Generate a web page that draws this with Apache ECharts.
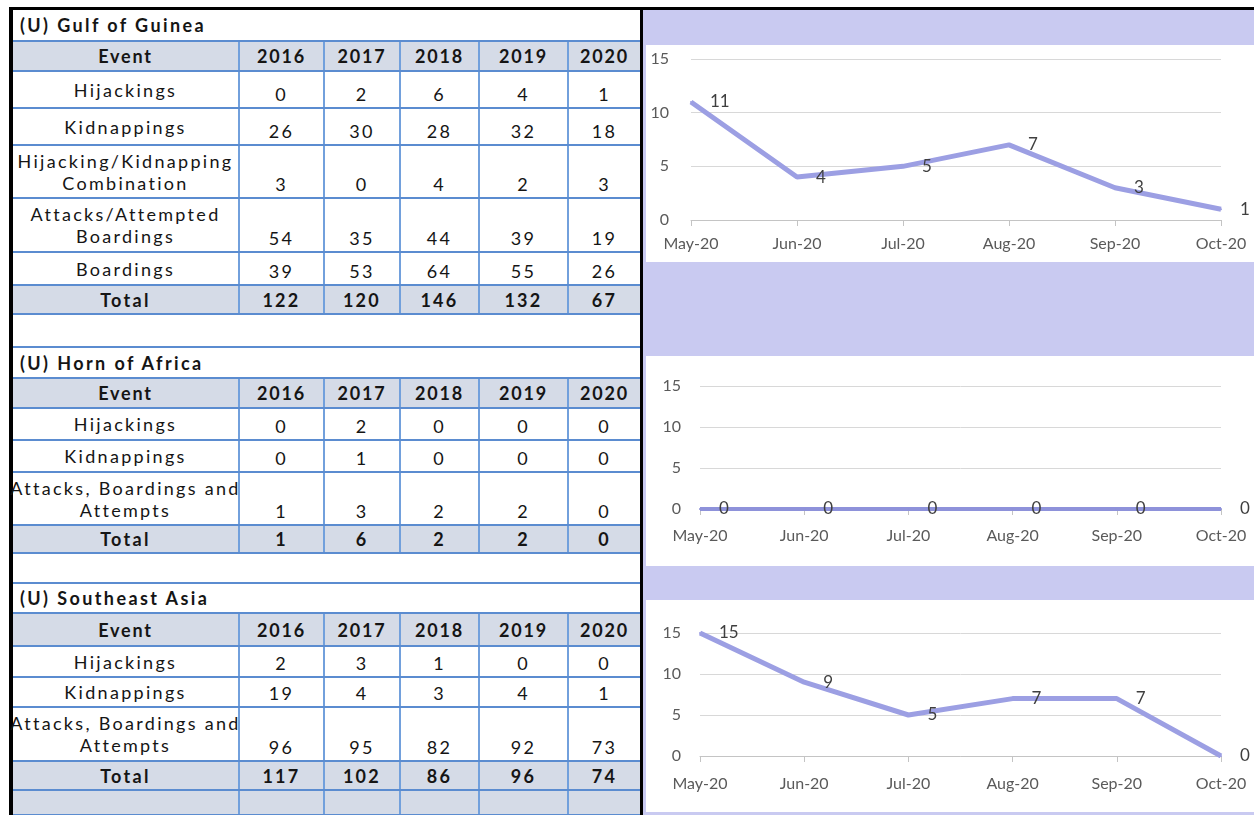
<!DOCTYPE html>
<html>
<head>
<meta charset="utf-8">
<script src="https://cdn.jsdelivr.net/npm/echarts@6/dist/echarts.min.js"></script>
<style>
  html, body { margin: 0; padding: 0; background: #fff; }
  body { width: 1254px; height: 815px; position: relative; overflow: hidden; font-family: Lato, 'Open Sans', sans-serif; }
  .blk { position: absolute; background: #000; }
  #tables { position: absolute; left: 13px; top: 10px; width: 627px; }
  #right { position: absolute; left: 643px; top: 10px; width: 611px; height: 805px; background: #c9caf1; }
  .panel { position: absolute; left: 3px; width: 608px; background: #fff; }

  table { border-collapse: collapse; table-layout: fixed; width: 627px; }
  td { padding: 0 0 2px 0; border-bottom: 2px solid #5b8cd0; font-size: 18px; letter-spacing: 2.3px; color: #151515;
       text-align: center; vertical-align: bottom; line-height: 22px; overflow: visible; }
  td + td { border-left: 2px solid #72a0dc; }
  td.ev { vertical-align: middle; padding: 0; }
  td.ev div { display: flex; flex-direction: column; align-items: center; white-space: pre; }
  tr.title td { text-align: left; font-weight: bold; vertical-align: middle; padding: 0 0 0 7px; letter-spacing: 2.4px; }
  tr.head td, tr.total td, tr.grey td { background: #d5dbe7; }
  tr.head td, tr.total td { font-weight: bold; vertical-align: middle; padding: 0; }
  tr.head td { letter-spacing: 1.8px; }
</style>
</head>
<body>
<div class="blk" style="left:9px;top:7px;width:1245px;height:3px"></div>
<div class="blk" style="left:9px;top:7px;width:4px;height:808px"></div>
<div class="blk" style="left:640px;top:7px;width:3px;height:808px"></div>

<div id="tables"></div>

<div id="right">
  <div class="panel" id="c1" style="top:35px;height:217px"></div>
  <div class="panel" id="c2" style="top:346px;height:210px"></div>
  <div class="panel" id="c3" style="top:590px;height:212px"></div>
</div>

<script>
// ---- table data ----
const years = ['2016', '2017', '2018', '2019', '2020'];

const gulfTitle = '(U) Gulf of Guinea';
const gulfEvents = ['Hijackings', 'Kidnappings', 'Hijacking/Kidnapping\nCombination', 'Attacks/Attempted\nBoardings', 'Boardings'];
const gulfCounts = [
  [0, 2, 6, 4, 1],
  [26, 30, 28, 32, 18],
  [3, 0, 4, 2, 3],
  [54, 35, 44, 39, 19],
  [39, 53, 64, 55, 26]
];
const gulfTotals = [122, 120, 146, 132, 67];

const hornTitle = '(U) Horn of Africa';
const hornEvents = ['Hijackings', 'Kidnappings', 'Attacks, Boardings and\nAttempts'];
const hornCounts = [
  [0, 2, 0, 0, 0],
  [0, 1, 0, 0, 0],
  [1, 3, 2, 2, 0]
];
const hornTotals = [1, 6, 2, 2, 0];

const seaTitle = '(U) Southeast Asia';
const seaEvents = ['Hijackings', 'Kidnappings', 'Attacks, Boardings and\nAttempts'];
const seaCounts = [
  [2, 3, 1, 0, 0],
  [19, 4, 3, 4, 1],
  [96, 95, 82, 92, 73]
];
const seaTotals = [117, 102, 86, 96, 74];

// ---- monthly chart data ----
const months = ['May-20', 'Jun-20', 'Jul-20', 'Aug-20', 'Sep-20', 'Oct-20'];
const gulfMonthly = [11, 4, 5, 7, 3, 1];
const hornMonthly = [0, 0, 0, 0, 0, 0];
const seaMonthly = [15, 9, 5, 7, 7, 0];

// ---- tables ----
const colWidths = [226, 85, 76, 79, 89, 72];

function block(title, events, counts, totals, h) {
  let html = `<tr class="title" style="height:${h.title}px"><td colspan="6">${title}</td></tr>`;
  html += `<tr class="head" style="height:${h.head}px"><td>Event</td>` + years.map(y => `<td>${y}</td>`).join('') + '</tr>';
  events.forEach((ev, i) => {
    html += `<tr style="height:${h.rows[i]}px"><td class="ev"><div>${ev}</div></td>` +
      counts[i].map(v => `<td>${v}</td>`).join('') + '</tr>';
  });
  html += `<tr class="total" style="height:${h.total}px"><td>Total</td>` + totals.map(v => `<td>${v}</td>`).join('') + '</tr>';
  if (h.tailGrey) {
    html += `<tr class="grey" style="height:${h.tail}px">` + colWidths.map(() => '<td></td>').join('') + '</tr>';
  } else {
    html += `<tr style="height:${h.tail}px"><td colspan="6"></td></tr>`;
  }
  return html;
}

let tableHtml = '<table><colgroup>' + colWidths.map(w => `<col style="width:${w}px">`).join('') + '</colgroup>';
tableHtml += block(gulfTitle, gulfEvents, gulfCounts, gulfTotals,
  { title: 31, head: 30, rows: [37, 37, 53, 54, 33], total: 29, tail: 33 });
tableHtml += block(hornTitle, hornEvents, hornCounts, hornTotals,
  { title: 31, head: 30, rows: [32, 32, 53], total: 28, tail: 30 });
tableHtml += block(seaTitle, seaEvents, seaCounts, seaTotals,
  { title: 30, head: 33, rows: [31, 30, 54], total: 29, tail: 25, tailGrey: true });
tableHtml += '</table>';
document.getElementById('tables').innerHTML = tableHtml;

// ---- line charts ----
function lineOption(values, g) {
  return {
    animation: false,
    grid: { left: g.left, right: 33, top: g.top, bottom: g.bottom },
    xAxis: {
      type: 'category',
      data: months,
      boundaryGap: false,
      axisLine: { lineStyle: { color: '#c4c4c4', width: 1 } },
      axisTick: { show: true, length: 6, lineStyle: { color: '#c4c4c4' } },
      axisLabel: { interval: 0, color: '#5a5a5a', fontSize: 16, fontFamily: 'Lato', margin: g.xMargin }
    },
    yAxis: {
      type: 'value',
      min: 0,
      max: 15,
      interval: 5,
      axisLine: { show: false },
      axisTick: { show: false },
      axisLabel: { color: '#5a5a5a', fontSize: 16, fontFamily: 'Lato', margin: g.yMargin },
      splitLine: { lineStyle: { color: '#d8d8d8', width: 1 } }
    },
    series: [{
      type: 'line',
      data: values,
      symbol: 'circle',
      symbolSize: 2,
      itemStyle: { color: g.color },
      lineStyle: { color: g.color, width: g.width },
      label: { show: true, position: 'right', distance: 18, color: '#3f3f3f', fontSize: 17, fontFamily: 'Lato' }
    }]
  };
}

const charts = [
  ['c1', gulfMonthly, { left: 45, top: 14, bottom: 42, xMargin: 16, yMargin: 22, color: '#9c9fe3', width: 5 }],
  ['c2', hornMonthly, { left: 54, top: 30, bottom: 57, xMargin: 19, yMargin: 19, color: '#8e92da', width: 4 }],
  ['c3', seaMonthly, { left: 54, top: 33, bottom: 56, xMargin: 20, yMargin: 19, color: '#9c9fe3', width: 5 }]
];

charts.forEach(([id, values, g]) => {
  const chart = echarts.init(document.getElementById(id));
  chart.setOption(lineOption(values, g));
});
</script>
</body>
</html>
